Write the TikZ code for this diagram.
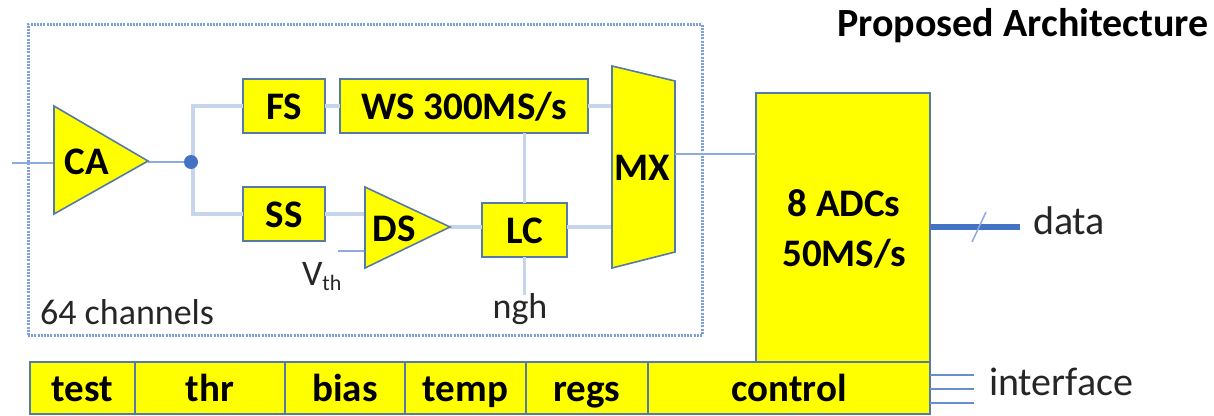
\documentclass[tikz,border=0pt]{standalone}
\usepackage{fontspec}
\setmainfont{Carlito}
\definecolor{fillyellow}{HTML}{FFFF00}
\definecolor{edgeblue}{HTML}{557AA6}
\definecolor{wirelight}{HTML}{C6D4EC}
\definecolor{wiremid}{HTML}{8FAADC}
\definecolor{framedot}{HTML}{7F9FD8}
\definecolor{wirestrong}{HTML}{4472C4}
\definecolor{labelgrey}{HTML}{262626}
\tikzset{
  blockbox/.style={draw=edgeblue,line width=1.6pt,fill=fillyellow,inner sep=0pt,outer sep=0pt,text=black,text height=31pt,text depth=5pt,font=\fontsize{39}{39}\selectfont\bfseries},
  blocklabel/.style={inner sep=0pt,outer sep=0pt,text=black,font=\fontsize{39}{39}\selectfont\bfseries,anchor=base},
  shapeedge/.style={draw=edgeblue,line width=1.6pt,fill=fillyellow,line join=miter},
  wirewide/.style={draw=wirelight,line width=3.2pt},
  wirethin/.style={draw=wiremid,line width=1.5pt},
  wireiface/.style={draw=wirestrong!80,line width=2.8pt},
  plainlabel/.style={inner sep=0pt,outer sep=0pt,text=labelgrey,font=\fontsize{36}{36}\selectfont,anchor=base west},
  largelabel/.style={plainlabel,font=\fontsize{40}{40}\selectfont},
  bottombox/.style={blockbox,minimum height=52pt,anchor=north west},
}
\newcommand{\rectnode}[6]{\node[blockbox,minimum width=#4 pt-#2 pt,minimum height=#5 pt-#3 pt,anchor=north west] (#1) at (#2,#3) {#6};}
\begin{document}
\begin{tikzpicture}[x=1pt,y=-1pt]
\useasboundingbox (0,0) rectangle (1214,415);
\fill[white] (0,0) rectangle (1214,415);
% channel frame
\node[draw=framedot,line width=3pt,dash pattern=on 2pt off 1.2pt,minimum width=674pt,minimum height=311pt,anchor=north west,inner sep=0pt,outer sep=0pt] (frame) at (28,24) {};
\node[anchor=base east,inner sep=0pt,font=\fontsize{40}{40}\selectfont\bfseries,text=black] (title) at (1209,36) {Proposed Architecture};
% pins
\coordinate (in) at (12,163);
\coordinate (caL) at (54,163);
\coordinate (caR) at (148,162);
\coordinate (j) at (193,162);
\coordinate (dsL1) at (365,214);
\coordinate (dsL2) at (365,251);
\coordinate (dsR) at (450,227);
\coordinate (vthend) at (338,251);
\coordinate (mxT) at (612,106);
\coordinate (mxB) at (612,227);
\coordinate (mxR) at (675,154);
\coordinate (nghend) at (524,295);
\coordinate (dataend) at (1020,227);
\coordinate (slashA) at (972,242);
\coordinate (slashB) at (986,212);
\coordinate (if1) at (974,375);
\coordinate (if2) at (974,389);
\coordinate (if3) at (974,403);
% blocks
\rectnode{fs}{243}{79}{325}{133}{FS}
\rectnode{ss}{243}{187}{325}{241}{SS}
\rectnode{ws}{340}{79}{588}{133}{WS 300MS/s}
\rectnode{lc}{482}{203}{567}{257}{LC}
% wires
\draw[wirewide] (j) |- (fs.west);
\draw[wirewide] (j) |- (ss.west);
\draw[wirewide] (fs.east) -- (ws.west);
\draw[wirewide] (ws.east) -- (ws.east -| mxT);
\draw[wirewide] (ss.east) -- (ss.east -| dsL1);
\draw[wirewide] (dsR) -- (dsR -| lc.west);
\draw[wirewide] (mxB -| lc.east) -- (mxB);
\draw[wirewide] (ws.south -| lc.north) -- (lc.north);
\draw[wirewide] (lc.south) -- (lc.south |- nghend);
\draw[wirethin] (in) -- (caL);
\draw[wirethin] (caR) -- (j);
\draw[wirethin] (vthend) -- (dsL2);
% triangles
\draw[shapeedge] (54,106) -- (148,161) -- (54,214) -- cycle;
\draw[shapeedge] (365,187) -- (450,227) -- (365,268) -- cycle;
\draw[shapeedge] (612,66) -- (675,81) -- (675,252) -- (612,268) -- cycle;
\node[blocklabel] (ca) at (87,174) {CA};
\node[blocklabel] (ds) at (394,241) {DS};
\node[blocklabel] (mx) at (642,180) {MX};
\fill[wirestrong] (j) ++(-2,0) circle (7pt);
\node[plainlabel] (chan) at (40,324) {64 channels};
\node[plainlabel] (vth) at (302,285) {V\raisebox{-0.3ex}{\fontsize{22}{22}\selectfont th}};
\node[plainlabel,anchor=base] (ngh) at (520,318) {ngh};
% ADC
\node[blockbox,minimum width=174pt,minimum height=269pt,anchor=north west] (adc) at (756,93) {};
\node[blocklabel] (adcA) at (844,216) {8 ADCs};
\node[blocklabel] (adcB) at (844,266) {50MS/s};
\draw[wirethin] (mxR) -- (mxR -| adc.west);
% bottom row
\node[bottombox,minimum width=105pt] (test) at (30,362) {test};
\node[bottombox,minimum width=150pt] (thr) at (135,362) {thr};
\node[bottombox,minimum width=120pt] (bias) at (285,362) {bias};
\node[bottombox,minimum width=121pt] (temp) at (405,362) {temp};
\node[bottombox,minimum width=122pt] (regs) at (526,362) {regs};
\node[bottombox,minimum width=282pt] (control) at (648,362) {control};
% outputs
\draw[draw=wirestrong,line width=6pt] (dataend -| adc.east) -- (dataend);
\draw[wirethin] (slashA) -- (slashB);
\node[largelabel] (data) at (1033,234) {data};
\draw[wireiface] (if1 -| control.east) -- (if1);
\draw[wireiface] (if2 -| control.east) -- (if2);
\draw[wireiface] (if3 -| control.east) -- (if3);
\node[largelabel] (iface) at (989,395) {interface};
\end{tikzpicture}
\end{document}
